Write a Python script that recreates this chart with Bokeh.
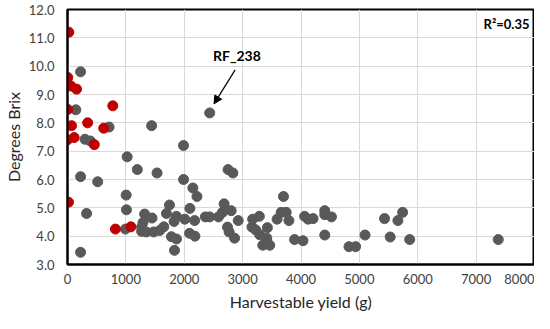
from bokeh.plotting import figure
from bokeh.models import ColumnDataSource, FixedTicker, NumeralTickFormatter, Range1d, Label, Arrow, NormalHead
from bokeh.embed import file_html
from bokeh.resources import INLINE

# Data (harvestable yield in g, degrees Brix)
gray_yield = [224, 143, 300, 390, 712, 1441, 1988, 1022, 1196, 1534, 224, 517, 1005, 1010, 327, 224,
              993, 1747, 1321, 1448, 1695, 1865, 1293, 1826, 1270, 1270, 1350, 1476, 1580, 1650, 1780,
              1867, 1833, 1988, 2148, 2218, 2097, 2750, 2833, 2010, 2178, 2091, 2183, 2362, 2436, 2586,
              2655, 2683, 2804, 2924, 2741, 2769, 2862, 3172, 3286, 3160, 3224, 3293, 3424, 3414, 3345,
              3465, 3700, 3660, 3746, 3591, 3793, 3890, 4034, 4062, 4121, 4207, 4407, 4407, 4522, 4407,
              4822, 4936, 5097, 5431, 5528, 5660, 5741, 5862, 7379, 2436]
gray_brix = [9.8, 8.46, 7.42, 7.36, 7.85, 7.9, 7.2, 6.8, 6.35, 6.23, 6.1, 5.92, 5.45, 4.93, 4.8, 3.43,
             4.25, 5.1, 4.78, 4.64, 4.8, 4.7, 4.48, 4.52, 4.32, 4.17, 4.15, 4.15, 4.2, 4.33, 3.98,
             3.9, 3.5, 6.0, 5.7, 5.4, 4.98, 6.35, 6.23, 4.6, 4.55, 4.1, 4.0, 4.68, 4.68, 4.68,
             4.84, 5.14, 4.9, 4.55, 4.32, 4.15, 3.93, 4.6, 4.7, 4.32, 4.22, 4.05, 4.3, 3.93, 3.68,
             3.68, 5.4, 4.84, 4.84, 4.6, 4.55, 3.88, 3.84, 4.7, 4.6, 4.62, 4.9, 4.76, 4.68, 4.04,
             3.63, 3.63, 4.04, 4.62, 3.97, 4.55, 4.84, 3.88, 3.88, 8.35]

red_yield = [22, 5, 57, 155, 5, 776, 69, 345, 620, 0, 114, 459, 17, 821, 1086]
red_brix = [11.2, 9.6, 9.3, 9.19, 8.47, 8.6, 7.9, 8.0, 7.81, 7.4, 7.48, 7.23, 5.2, 4.25, 4.33]

x_ticks = [0, 1000, 2000, 3000, 4000, 5000, 6000, 7000, 8000]
y_ticks = [3, 4, 5, 6, 7, 8, 9, 10, 11, 12]

FONT = "Lato"

p = figure(width=534, height=313, output_backend="svg", toolbar_location=None,
           x_range=Range1d(0, 8000), y_range=Range1d(3, 12),
           min_border_left=58, min_border_right=0, min_border_top=9, min_border_bottom=40)

p.scatter(gray_yield, gray_brix, size=10, color="#595959", line_color="#595959")
p.scatter(red_yield, red_brix, size=10, color="#C00000", line_color="#C00000")

p.xaxis.ticker = FixedTicker(ticks=x_ticks)
p.yaxis.ticker = FixedTicker(ticks=y_ticks)
p.yaxis.formatter = NumeralTickFormatter(format="0.0")
p.xaxis.formatter = NumeralTickFormatter(format="0")

for ax in (p.xaxis, p.yaxis):
    ax.major_tick_line_color = None
    ax.minor_tick_line_color = None
    ax.major_tick_out = 0
    ax.major_tick_in = 0
    ax.minor_tick_out = 0
    ax.axis_line_color = "black"
    ax.axis_line_width = 2
    ax.major_label_text_font = FONT
    ax.major_label_text_font_size = "13px"
    ax.major_label_text_color = "#404040"
    ax.axis_label_text_font = FONT
    ax.axis_label_text_font_size = "16px"
    ax.axis_label_text_font_style = "normal"
    ax.axis_label_text_color = "#262626"

p.xaxis.axis_label = "Harvestable yield (g)"
p.yaxis.axis_label = "Degrees Brix"
p.xaxis.major_label_standoff = 9
p.yaxis.major_label_standoff = 13
p.xaxis.axis_label_standoff = 5
p.yaxis.axis_label_standoff = 3

p.xgrid.grid_line_color = "#d9d9d9"
p.ygrid.grid_line_color = "#d9d9d9"
p.xgrid.grid_line_width = 1
p.ygrid.grid_line_width = 1

p.outline_line_color = "black"
p.outline_line_width = 2
p.outline_line_alpha = 1

p.add_layout(Label(x=7914, y=11.49, text="R²=0.35", text_font=FONT, text_font_size="13px",
                   text_font_style="bold", text_align="right", text_baseline="middle",
                   text_color="black"))
p.add_layout(Label(x=2902, y=10.39, text="RF_238", text_font=FONT, text_font_size="14px",
                   text_font_style="bold", text_align="center", text_baseline="middle",
                   text_color="black"))
p.add_layout(Arrow(x_start=2872, y_start=9.87, x_end=2510, y_end=8.67, line_color="black",
                   line_width=1.2,
                   end=NormalHead(size=8, fill_color="black", line_color="black")))

open("out.html", "w").write(file_html(p, INLINE))
